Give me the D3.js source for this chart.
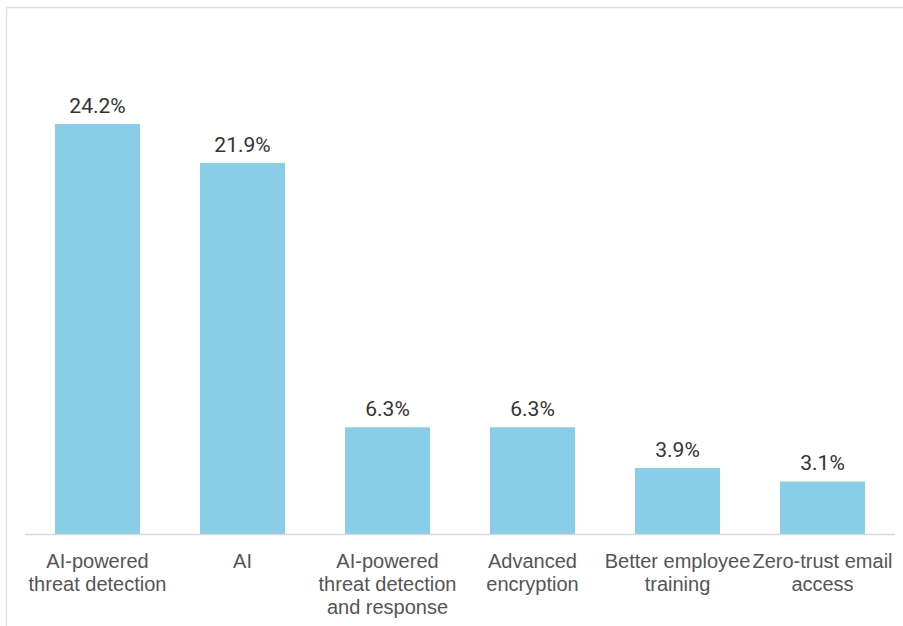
<!DOCTYPE html>
<html><head><meta charset="utf-8">
<script src="https://cdn.jsdelivr.net/npm/d3@7"></script>
<style>html,body{margin:0;padding:0;background:#fff;}</style>
</head><body>
<svg id="chart" width="903" height="626"></svg>
<script>
const categories = [
  ["AI-powered", "threat detection"],
  ["AI"],
  ["AI-powered", "threat detection", "and response"],
  ["Advanced", "encryption"],
  ["Better employee", "training"],
  ["Zero-trust email", "access"]
];
const values = [24.2, 21.9, 6.3, 6.3, 3.9, 3.1];
const valueLabels = ["24.2%", "21.9%", "6.3%", "6.3%", "3.9%", "3.1%"];

const svg = d3.select("#chart");
const W = 903, H = 626;
const left = 25, right = 895, base = 534;

svg.append("rect").attr("x", 6.5).attr("y", 7.5).attr("width", W).attr("height", H)
  .attr("fill", "#fff").attr("stroke", "#e2e2e2").attr("stroke-width", 1.5);

const keys = categories.map((c, i) => i);
const x = d3.scaleBand().domain(keys).range([left, right]).paddingInner(60/145).paddingOuter(30/145);
const y = d3.scaleLinear().domain([0, 24.2]).range([base, 124]);

svg.append("g").selectAll("rect").data(values).join("rect")
  .attr("x", (d, i) => x(i)).attr("width", x.bandwidth())
  .attr("y", d => y(d)).attr("height", d => base - y(d))
  .attr("fill", "#89CDE9");

svg.append("line").attr("x1", left).attr("x2", right).attr("y1", base + 0.5).attr("y2", base + 0.5)
  .attr("stroke", "#d9d9d9").attr("stroke-width", 1.5);

svg.append("g").selectAll("text").data(values).join("text")
  .attr("x", (d, i) => x(i) + x.bandwidth() / 2).attr("y", d => y(d) - 11)
  .attr("text-anchor", "middle").attr("font-family", "Roboto, sans-serif")
  .attr("font-size", 21).attr("fill", "#333")
  .text((d, i) => valueLabels[i]);

const lab = svg.append("g").selectAll("text").data(categories).join("text")
  .attr("x", (d, i) => x(i) + x.bandwidth() / 2).attr("y", 568)
  .attr("text-anchor", "middle").attr("font-family", "'Liberation Sans', Arial, sans-serif")
  .attr("font-size", 20).attr("fill", "#555");
lab.each(function(d) {
  const t = d3.select(this);
  d.forEach((line, j) => {
    t.append("tspan").attr("x", t.attr("x")).attr("y", 568 + j * 23).text(line);
  });
});
</script>
</body></html>
